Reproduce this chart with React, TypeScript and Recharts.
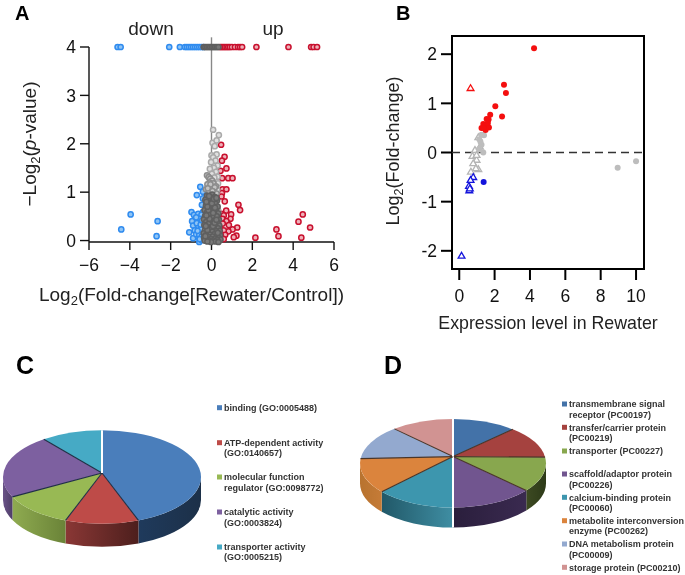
import { Cell, Pie, PieChart, ReferenceArea, ReferenceLine, Scatter, ScatterChart, XAxis, YAxis } from 'recharts';

const FONT = '"Liberation Sans", Arial, sans-serif';

// panel A: [log2 fold change, -log2 p]
const TOP_ROW = 4;
const volcanoTopBlue = [-4.6, -4.45, -2.07, -1.55, -1.3, -1.2, -1.1, -1.0, -0.9, -0.8, -0.7, -0.6, -0.5, -0.4];
const volcanoTopGray = [-0.38, -0.3, -0.22, -0.14, -0.06, 0.02, 0.1, 0.18, 0.26, 0.34];
const volcanoTopRed = [0.42, 0.5, 0.58, 0.66, 0.74, 0.82, 0.9, 1.0, 1.15, 1.3, 1.4, 1.5, 2.2, 3.77, 4.88, 5.0, 5.17];
const volcanoBlue = [
  [-3.96, 0.54], [-2.64, 0.4], [-2.69, 0.09], [-4.42, 0.23], [-0.55, 1.11], [-0.42, 1.01], [-0.72, 0.94],
  [-0.42, 0.87], [-0.47, 0.74], [-0.42, 0.59], [-0.98, 0.59], [-0.86, 0.53], [-0.65, 0.55], [-0.49, 0.53],
  [-0.95, 0.4], [-0.65, 0.42], [-0.41, 0.38], [-0.9, 0.31], [-0.65, 0.3], [-0.44, 0.28], [-0.82, 0.21],
  [-1.09, 0.17], [-0.57, 0.18], [-0.41, 0.14], [-0.9, 0.05], [-0.65, 0.08], [-0.41, 0.03], [-0.6, -0.03],
  [-0.49, 0.01], [-0.55, 0.45], [-0.75, 0.13], [-0.52, 0.24], [-0.72, 0.36], [-0.6, 0.12], [-0.48, 0.08],
  [-0.68, 0.2], [-0.53, 0.33], [-0.46, 0.42], [-0.58, 0.03], [-0.75, 0.48],
];
const volcanoRed = [
  [0.47, 1.98], [0.64, 1.73], [0.51, 1.65], [0.73, 1.49], [0.44, 1.44], [0.52, 1.29], [0.82, 1.29], [1.03, 1.29],
  [0.54, 1.06], [0.73, 1.06], [0.51, 0.98], [0.49, 0.91], [0.65, 0.81], [1.32, 0.74], [1.4, 0.63], [0.72, 0.62],
  [0.49, 0.55], [0.96, 0.54], [0.6, 0.52], [0.93, 0.45], [0.54, 0.45], [0.73, 0.4], [0.41, 0.3], [1.26, 0.27],
  [1.03, 0.23], [0.83, 0.19], [0.6, 0.21], [0.41, 0.18], [0.67, 0.12], [1.22, 0.1], [1.09, 0.07], [0.47, 0.08],
  [0.6, 0.03], [0.42, 0.12], [2.15, 0.06], [3.18, 0.23], [3.28, 0.09], [4.26, 0.39], [4.47, 0.54], [4.83, 0.27],
  [4.4, 0.06], [0.55, 0.35], [0.85, 0.32],
];
const volcanoLightGray = [
  [0.08, 2.29], [0.36, 2.18], [0.05, 2.02], [0.25, 2.07], [0.16, 1.95], [0, 1.76], [0.25, 1.78], [0.08, 1.72],
  [0.2, 1.65], [-0.02, 1.62], [0.3, 1.55], [0.12, 1.5], [-0.08, 1.48], [0.22, 1.42], [0.02, 1.38], [0.3, 1.32],
  [0.14, 1.3], [0.32, 1.18], [0.28, 1.05], [0.33, 0.62],
];
const volcanoMidGray = [
  [-0.22, 1.35], [-0.14, 1.31], [-0.06, 1.28], [0.03, 1.24], [-0.1, 1.2], [0.1, 1.18], [-0.2, 1.16], [0.22, 1.12],
  [-0.02, 1.1], [-0.27, 1.06], [0.12, 1.03], [-0.12, 1.01], [0.25, 0.97], [-0.05, 1.16], [0.16, 1.1], [-0.18, 1.08],
  [0.05, 1.02],
];
const volcanoDarkGray = [
  [0.03, 0.95], [-0.22, 0.93], [0.16, 0.9],
  [-0.07, 0.88], [-0.3, 0.84], [0.27, 0.83], [0.06, 0.81], [-0.16, 0.78], [0.19, 0.76], [-0.03, 0.74], [-0.27, 0.72],
  [0.3, 0.7], [0.1, 0.68], [-0.12, 0.66], [-0.34, 0.63], [0.22, 0.62], [0.01, 0.6], [-0.22, 0.58], [0.33, 0.56],
  [0.13, 0.55], [-0.09, 0.53], [-0.31, 0.51], [0.26, 0.5], [0.04, 0.48], [-0.18, 0.46], [-0.37, 0.44], [0.36, 0.43],
  [0.17, 0.42], [-0.04, 0.4], [-0.26, 0.38], [0.29, 0.37], [0.08, 0.35], [-0.14, 0.34], [-0.35, 0.32], [0.38, 0.31],
  [0.2, 0.3], [-0.01, 0.28], [-0.23, 0.27], [0.32, 0.25], [0.11, 0.24], [-0.1, 0.23], [-0.32, 0.21], [0.4, 0.2],
  [0.23, 0.19], [0.03, 0.18], [-0.18, 0.17], [-0.38, 0.15], [0.34, 0.14], [0.14, 0.13], [-0.07, 0.12], [-0.28, 0.11],
  [0.42, 0.1], [0.25, 0.09], [0.05, 0.08], [-0.15, 0.07], [-0.36, 0.06], [0.36, 0.05], [0.17, 0.04], [-0.03, 0.03],
  [-0.24, 0.02], [0.44, 0.02], [0.28, 0.01], [0.09, 0], [-0.12, 0], [-0.33, 0], [0.2, -0.02], [-0.02, -0.03],
  [-0.2, -0.02], [0.34, -0.03], [-0.3, 0.09], [0.31, 0.16], [-0.2, 0.22], [0.07, 0.3], [-0.28, 0.3], [0.15, 0.37],
  [-0.1, 0.45], [0.24, 0.43], [-0.25, 0.52], [0.08, 0.57], [-0.15, 0.63], [0.17, 0.68], [-0.2, 0.7], [0.02, 0.77],
  [0.12, 0.86], [-0.12, 0.92], [0.24, 0.88], [-0.25, 0.8],
];

// panel B: [expression level, log2 fold change]
const rewaterRedDots = [
  [4.23, 2.12], [2.53, 1.38], [2.64, 1.21], [2.04, 0.94], [1.75, 0.77], [2.42, 0.73], [1.55, 0.68], [1.66, 0.67],
  [1.36, 0.58], [1.26, 0.5], [1.45, 0.54], [1.58, 0.56], [1.68, 0.51], [1.49, 0.46], [1.36, 0.5], [1.62, 0.6],
];
const rewaterRedTriangles = [[0.64, 1.31]];
const rewaterGrayDots = [
  [8.96, -0.31], [10, -0.18], [1.36, 0], [1.4, 0.35], [1.26, 0.36], [1.13, 0.27], [1.26, 0.16], [1.13, 0.07], [1.2, 0.22],
];
const rewaterGrayTriangles = [
  [1.08, 0.31], [0.89, 0.05], [0.75, -0.07], [0.98, -0.15], [0.79, -0.22], [1.08, -0.34], [0.94, -0.32], [0.66, -0.39],
  [1.17, 0.12], [0.98, -0.05],
];
const rewaterBlueDots = [[1.38, -0.6]];
const rewaterBlueTriangles = [[0.79, -0.5], [0.64, -0.56], [0.55, -0.68], [0.57, -0.77], [0.6, -0.73], [0.13, -2.1]];

// panel C
const functionLabels = [
  ['binding (GO:0005488)'],
  ['ATP-dependent activity', '(GO:0140657)'],
  ['molecular function', 'regulator (GO:0098772)'],
  ['catalytic activity', '(GO:0003824)'],
  ['transporter activity', '(GO:0005215)'],
];
const functionValues = [44, 12, 12, 22, 10];
const functionColors = ['#4a7ebb', '#be4b48', '#98b954', '#7d60a0', '#46aac5'];
const functionWalls = [['#1f3a5c', '#1c3048'], ['#8a3735', '#4d1f1d'], ['#8fab50', '#6a8338'], ['#6a5388', '#4f3e68'], ['#46aac5', '#46aac5']];

// panel D
const proteinLabels = [
  ['transmembrane signal', 'receptor (PC00197)'],
  ['transfer/carrier protein', '(PC00219)'],
  ['transporter (PC00227)'],
  ['scaffold/adaptor protein', '(PC00226)'],
  ['calcium-binding protein', '(PC00060)'],
  ['metabolite interconversion', 'enzyme (PC00262)'],
  ['DNA metabolism protein', '(PC00009)'],
  ['storage protein (PC00210)'],
];
const proteinValues = [40, 42, 46, 52, 50, 46, 45, 39];
const proteinColors = ['#4372a8', '#a5423f', '#88a74e', '#71558f', '#3d96ae', '#db843d', '#93a9cf', '#d19392'];
const proteinWalls = [['#4372a8', '#4372a8'], ['#a5423f', '#a5423f'], ['#3d4a22', '#2d3a18'], ['#2a1e3c', '#3a2a50'], ['#215868', '#3f8ea3'], ['#b8732f', '#c57b37'], ['#93a9cf', '#93a9cf'], ['#d19392', '#d19392']];

const toPoints = (pairs: number[][]) => pairs.map(([x, y]) => ({ x, y }));
const topRow = (xs: number[]) => xs.map((x) => ({ x, y: TOP_ROW }));

const Dot = ({ cx, cy, r, fill, stroke, strokeWidth }: any) => (
  <circle cx={cx} cy={cy} r={r} fill={fill} stroke={stroke} strokeWidth={strokeWidth} />
);

const ringShape = (fill: string, stroke: string) => (p: any) => <Dot cx={p.cx} cy={p.cy} r={2.6} fill={fill} stroke={stroke} strokeWidth={1.5} />;
const dotShape = (fill: string) => (p: any) => <Dot cx={p.cx} cy={p.cy} r={p.x > 8 && p.x < 9.5 ? 3.4 : 3} fill={fill} />;
const triangleShape = (stroke: string) => (p: any) => (
  <path d={`M${p.cx} ${p.cy - 3.4}L${p.cx + 3.4} ${p.cy + 2.4}L${p.cx - 3.4} ${p.cy + 2.4}Z`} fill="#fff" stroke={stroke} strokeWidth={1.3} />
);

function VolcanoChart() {
  return (
    <ScatterChart width={350} height={310} margin={{ top: 47, right: 16, bottom: 28, left: 29 }} style={{ position: 'absolute', left: 0, top: 0 }}>
      <XAxis
        type="number"
        dataKey="x"
        domain={[-6, 6]}
        ticks={[-6, -4, -2, 0, 2, 4, 6]}
        interval={0}
        height={40}
        tickSize={8}
        tickMargin={9}
        tickFormatter={(v: number) => String(v).replace('-', '−')}
        axisLine={{ stroke: '#111', strokeWidth: 1.4 }}
        tickLine={{ stroke: '#111', strokeWidth: 1.4 }}
        tick={{ fill: '#111', fontSize: 17.5, fontFamily: FONT }}
      />
      <YAxis
        type="number"
        dataKey="y"
        domain={[0, 4]}
        ticks={[0, 1, 2, 3, 4]}
        interval={0}
        width={60}
        tickSize={9}
        tickMargin={4}
        axisLine={{ stroke: '#111', strokeWidth: 1.4 }}
        tickLine={{ stroke: '#111', strokeWidth: 1.4 }}
        tick={{ fill: '#111', fontSize: 17.5, fontFamily: FONT }}
      />
      <ReferenceLine segment={[{ x: 0, y: 0 }, { x: 0, y: 4.2 }]} stroke="#888" strokeWidth={1.4} ifOverflow="visible" />
      <Scatter data={topRow(volcanoTopBlue)} isAnimationActive={false} shape={ringShape('#8fc4f5', '#2f8bef')} />
      <Scatter data={topRow(volcanoTopRed)} isAnimationActive={false} shape={ringShape('#eeb0b8', '#c8102e')} />
      <Scatter data={topRow(volcanoTopGray)} isAnimationActive={false} shape={ringShape('#777', '#5e5e5e')} />
      <Scatter data={toPoints(volcanoBlue)} isAnimationActive={false} shape={ringShape('#8fc4f5', '#2f8bef')} />
      <Scatter data={toPoints(volcanoRed)} isAnimationActive={false} shape={ringShape('#eeb0b8', '#c8102e')} />
      <Scatter data={toPoints(volcanoLightGray)} isAnimationActive={false} shape={ringShape('#e0e0e0', '#aaaaaa')} />
      <Scatter data={toPoints(volcanoMidGray)} isAnimationActive={false} shape={ringShape('#c4c4c4', '#8c8c8c')} />
      <Scatter data={toPoints(volcanoDarkGray)} isAnimationActive={false} shape={ringShape('#7a7a7a', '#5f5f5f')} />
    </ScatterChart>
  );
}

function ExpressionChart() {
  const tickStyle = { fill: '#111', fontSize: 17.5, fontFamily: FONT };
  return (
    <ScatterChart width={315} height={340} margin={{ top: 36, right: 41, bottom: 31, left: 42 }} style={{ position: 'absolute', left: 370, top: 0 }}>
      <XAxis
        type="number"
        dataKey="x"
        domain={[-0.41, 10.45]}
        ticks={[0, 2, 4, 6, 8, 10]}
        interval={0}
        height={40}
        tickSize={11}
        tickMargin={10}
        axisLine={false}
        tickLine={{ stroke: '#000', strokeWidth: 2 }}
        tick={tickStyle}
      />
      <YAxis
        type="number"
        dataKey="y"
        domain={[-2.37, 2.37]}
        ticks={[-2, -1, 0, 1, 2]}
        interval={0}
        width={40}
        tickSize={11}
        tickMargin={4}
        axisLine={false}
        tickLine={{ stroke: '#000', strokeWidth: 2 }}
        tick={tickStyle}
      />
      <ReferenceArea x1={-0.41} x2={10.45} y1={-2.37} y2={2.37} fill="none" stroke="#000" strokeWidth={2} />
      <ReferenceLine y={0} stroke="#333" strokeWidth={1.4} strokeDasharray="8 5" />
      <Scatter data={toPoints(rewaterGrayTriangles)} isAnimationActive={false} shape={triangleShape('#b5b5b5')} />
      <Scatter data={toPoints(rewaterGrayDots)} isAnimationActive={false} shape={dotShape('#bdbdbd')} />
      <Scatter data={toPoints(rewaterRedDots)} isAnimationActive={false} shape={dotShape('#f40f0f')} />
      <Scatter data={toPoints(rewaterRedTriangles)} isAnimationActive={false} shape={triangleShape('#f40f0f')} />
      <Scatter data={toPoints(rewaterBlueDots)} isAnimationActive={false} shape={dotShape('#1414dc')} />
      <Scatter data={toPoints(rewaterBlueTriangles)} isAnimationActive={false} shape={triangleShape('#1414dc')} />
    </ScatterChart>
  );
}

// flat ellipse look for the pies, the angles come from recharts
type Tilt = { ry: number; depth: number; apexDy: number; line: string; whiteAngles: number[] };

function Slice3D(props: any & { tilt: Tilt }) {
  const { cx, cy, outerRadius, startAngle, endAngle, fill, tilt, wallFrom, wallTo, index } = props;
  const at = (a: number, dy = 0) => {
    const rad = (a * Math.PI) / 180;
    return `${cx + outerRadius * Math.cos(rad)} ${cy - tilt.ry * Math.sin(rad) + dy}`;
  };
  const large = startAngle - endAngle > 180 ? 1 : 0;
  const arc = `${outerRadius} ${tilt.ry} 0`;
  const top = `M${cx} ${cy + tilt.apexDy}L${at(startAngle)}A${arc} ${large} 1 ${at(endAngle)}Z`;
  const lo = Math.max(endAngle, -180);
  const hi = Math.min(startAngle, 0);
  const gradId = `wall-${tilt.ry}-${index}`;
  return (
    <g>
      {lo < hi && (
        <>
          <defs>
            <linearGradient id={gradId} x1="0" x2="1" y1="0" y2="0">
              <stop offset="0%" stopColor={wallFrom} />
              <stop offset="100%" stopColor={wallTo} />
            </linearGradient>
          </defs>
          <path d={`M${at(hi)}A${arc} 0 1 ${at(lo)}L${at(lo, tilt.depth)}A${arc} 0 0 ${at(hi, tilt.depth)}Z`} fill={`url(#${gradId})`} />
        </>
      )}
      <path d={top} fill={fill} />
    </g>
  );
}

function SliceEdge(props: any & { tilt: Tilt }) {
  const { cx, cy, outerRadius, endAngle, tilt } = props;
  const rad = (endAngle * Math.PI) / 180;
  const x = cx + outerRadius * Math.cos(rad);
  const y = cy - tilt.ry * Math.sin(rad);
  const white = tilt.whiteAngles.some((a) => Math.abs(a - endAngle) < 0.5);
  const isBack = endAngle < -180 || endAngle > 0;
  return (
    <line
      x1={cx}
      y1={cy + tilt.apexDy}
      x2={x}
      y2={white && !isBack ? y + tilt.depth : y}
      stroke={white ? '#fff' : tilt.line}
      strokeWidth={white ? 2 : 1.1}
    />
  );
}

function Pie3D({ values, colors, walls, left, top, cx, cy, rx, tilt }: any) {
  const data = values.map((value: number, i: number) => ({ name: `s${i}`, value, wallFrom: walls[i][0], wallTo: walls[i][1] }));
  return (
    <PieChart width={220} height={210} margin={{ top: 0, right: 0, bottom: 0, left: 0 }} style={{ position: 'absolute', left, top }}>
      <Pie
        data={data}
        dataKey="value"
        cx={cx}
        cy={cy}
        outerRadius={rx}
        startAngle={90}
        endAngle={-270}
        isAnimationActive={false}
        stroke="none"
        shape={(p: any) => <Slice3D {...p} tilt={tilt} />}
      >
        {colors.map((c: string, i: number) => (
          <Cell key={`cell-${i}`} fill={c} />
        ))}
      </Pie>
      <Pie
        data={data}
        dataKey="value"
        cx={cx}
        cy={cy}
        outerRadius={rx}
        startAngle={90}
        endAngle={-270}
        isAnimationActive={false}
        stroke="none"
        shape={(p: any) => <SliceEdge {...p} tilt={tilt} />}
      />
    </PieChart>
  );
}

function PieLegend({ labels, colors, x, rows }: { labels: string[][]; colors: string[]; x: number; rows: number[][] }) {
  return (
    <g fontSize={9} fontWeight={700} fill="#333" fontFamily={FONT}>
      {labels.map((lines, i) => (
        <g key={lines[0]}>
          <rect x={x} y={rows[i][0] - 2.5} width={5} height={5} fill={colors[i]} />
          {lines.map((line, j) => (
            <text key={line} x={x + 7} y={rows[i][j] + 3.2}>
              {line}
            </text>
          ))}
        </g>
      ))}
    </g>
  );
}

const functionRows = [[407.7], [442.7, 453], [477, 487.7], [512, 522.7], [547, 557]];
const proteinRows = [[404, 414.3], [427.3, 437.7], [451], [474, 484.3], [497.3, 507.7], [520.7, 531], [544, 554.3], [567.3]];

export default function App() {
  return (
    <div style={{ position: 'absolute', left: 0, top: 0, width: 685, height: 575, background: '#fff', overflow: 'hidden', filter: 'blur(0.45px)' }}>
      <VolcanoChart />
      <ExpressionChart />
      <Pie3D
        values={functionValues}
        colors={functionColors}
        walls={functionWalls}
        left={0}
        top={345}
        cx={102}
        cy={132}
        rx={99}
        tilt={{ ry: 46.7, depth: 23, apexDy: -4, line: '#1f2f45', whiteAngles: [-270] }}
      />
      <Pie3D
        values={proteinValues}
        colors={proteinColors}
        walls={proteinWalls}
        left={345}
        top={345}
        cx={108}
        cy={118.3}
        rx={93}
        tilt={{ ry: 44.3, depth: 20, apexDy: -6.7, line: '#4a3528', whiteAngles: [-270, -90] }}
      />
      <svg width={685} height={575} style={{ position: 'absolute', left: 0, top: 0, pointerEvents: 'none' }} fontFamily={FONT}>
        <g fontWeight={700} fill="#000">
          <text x={15} y={20} fontSize={20}>A</text>
          <text x={396} y={19.5} fontSize={20}>B</text>
          <text x={16} y={374} fontSize={25}>C</text>
          <text x={384} y={374} fontSize={25}>D</text>
        </g>
        <g fill="#222">
          <text x={151} y={35} fontSize={19} textAnchor="middle">down</text>
          <text x={273} y={35} fontSize={19} textAnchor="middle">up</text>
          <text x={191.5} y={301} fontSize={19} textAnchor="middle">
            Log<tspan dy={4} fontSize={13}>2</tspan><tspan dy={-4}>(Fold-change[Rewater/Control])</tspan>
          </text>
          <text transform="translate(36 144) rotate(-90)" fontSize={19} textAnchor="middle">
            −Log<tspan dy={4} fontSize={13}>2</tspan><tspan dy={-4}>(</tspan><tspan fontStyle="italic">p</tspan>-value)
          </text>
          <text x={548} y={329} fontSize={17.8} textAnchor="middle">Expression level in Rewater</text>
          <text transform="translate(399 151) rotate(-90)" fontSize={18} textAnchor="middle">
            Log<tspan dy={4} fontSize={12.5}>2</tspan><tspan dy={-4}>(Fold-change)</tspan>
          </text>
        </g>
        <PieLegend labels={functionLabels} colors={functionColors} x={217} rows={functionRows} />
        <PieLegend labels={proteinLabels} colors={proteinColors} x={562} rows={proteinRows} />
      </svg>
    </div>
  );
}
